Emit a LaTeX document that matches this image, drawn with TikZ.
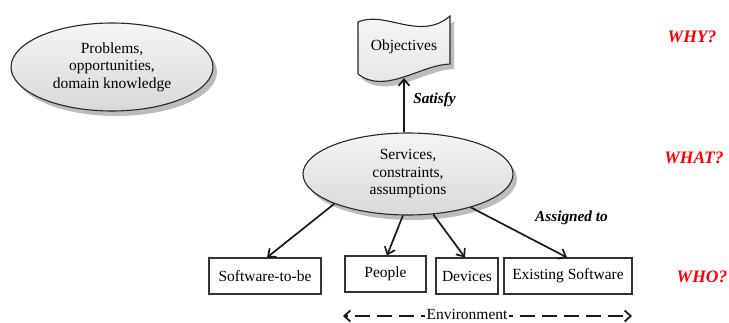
\documentclass[tikz,border=0pt]{standalone}
\usepackage{fontspec}
\setmainfont{Liberation Serif}
\usetikzlibrary{arrows.meta,shapes.geometric,shadows}
\begin{document}
\begin{tikzpicture}[x=1pt,y=-1pt,
  txt/.style={font=\fontsize{15.5}{17.5}\selectfont, align=center},
  lbl/.style={font=\fontsize{15.3}{17}\selectfont\bfseries\itshape},
  ask/.style={font=\fontsize{17.5}{20}\selectfont\bfseries\itshape, text=red},
  shade/.style={drop shadow={shadow xshift=4pt, shadow yshift=-5pt, fill=gray!70, opacity=0.75}},
  bubble/.style={ellipse, draw=black!85, line width=1.1pt, top color=gray!8, bottom color=gray!30,
    inner sep=0pt, txt, shade},
  actor/.style={rectangle, draw=black!80, line width=1.1pt, minimum height=36pt, inner sep=0pt, txt},
  conn/.style={draw=black!90, line width=1.7pt, -{Straight Barb[length=6.5pt,width=11pt,line width=1.7pt]}},
  env/.style={draw=black!90, line width=1.8pt, dash pattern=on 15pt off 7pt, dash phase=11pt,
    -{Straight Barb[length=6pt,width=11pt,line width=1.8pt]}}
]
\useasboundingbox (0,0) rectangle (729,322);

% goal flag
\draw[line width=1.1pt, draw=black!85, top color=gray!6, bottom color=gray!22, shade]
  (358,22) .. controls (385,10) and (420,42) .. (450,16) -- (450,64)
  .. controls (420,65) and (385,95) .. (358,74) -- cycle;
\node[txt] (obj) at (404,47) {Objectives};
\coordinate (objb) at (404,78);

% bubbles
\node[bubble, minimum width=202pt, minimum height=88pt] (prob) at (112,67)
  {Problems,\\opportunities,\\domain knowledge};
\node[bubble, minimum width=210pt, minimum height=82pt] (serv) at (408,174)
  {Services,\\constraints,\\assumptions};

% agents
\node[actor, minimum width=112pt] (sw) at (265,276) {Software-to-be};
\node[actor, minimum width=81pt]  (pp) at (385.5,274) {People};
\node[actor, minimum width=62pt]  (dv) at (467,276) {Devices};
\node[actor, minimum width=128pt] (ex) at (568,276) {Existing Software};

% links
\draw[conn] (serv.north -| objb) -- (objb);
\node[lbl] (sat) at (434.5,100) {Satisfy};
\draw[conn] (serv.202) -- ([xshift=2pt]sw.north);
\draw[conn] (serv.263) -- ([xshift=1.5pt]pp.north);
\draw[conn] (serv.302) -- ([xshift=-2pt]dv.north);
\draw[conn] (serv.332) -- ([xshift=-1pt]ex.north);
\node[lbl] (asg) at (571.5,218) {Assigned to};

% environment span
\node[txt, inner sep=1.5pt] (envt) at (467,314.5) {Environment};
\coordinate (envl) at (343,316);
\coordinate (envr) at (632,316);
\draw[env] (envt.west |- envl) -- (envl);
\draw[env] (envt.east |- envr) -- (envr);

% questions
\node[ask] (why)  at (692,37)  {WHY?};
\node[ask] (what) at (694,158) {WHAT?};
\node[ask] (who)  at (702,277) {WHO?};
\end{tikzpicture}
\end{document}
